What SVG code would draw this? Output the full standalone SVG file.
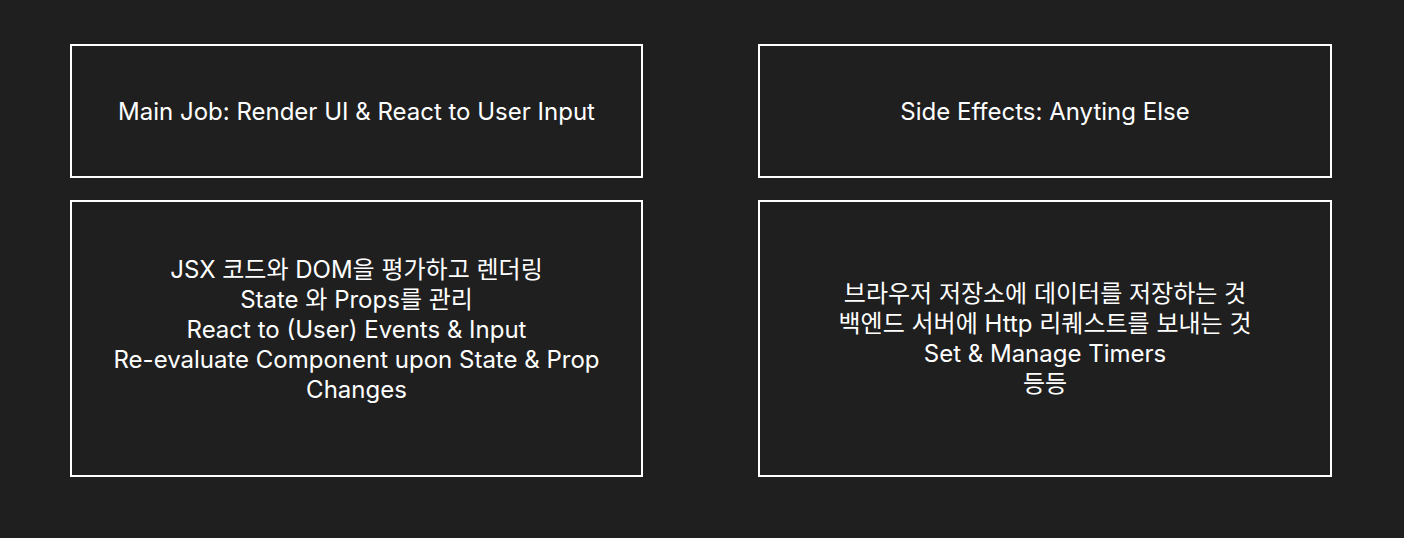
<svg xmlns="http://www.w3.org/2000/svg" width="1404" height="538" viewBox="0 0 1404 538">
<style>
.box{fill:none;stroke:#ffffff;stroke-width:2}
.t{fill:#ffffff;font-family:Inter,"Noto Sans CJK KR",sans-serif;font-size:24px;font-weight:400;text-anchor:middle;dominant-baseline:central}
</style>
<rect width="1404" height="538" fill="#1f1f1f"/>
<g id="main-job">
<rect class="box" x="71" y="45" width="571" height="132"/>
<text class="t" x="356.5" y="111">Main Job: Render UI &amp; React to User Input</text>
</g>
<g id="side-effects">
<rect class="box" x="759" y="45" width="572" height="132"/>
<text class="t" x="1045" y="111">Side Effects: Anyting Else</text>
</g>
<g id="main-job-details">
<rect class="box" x="71" y="201" width="571" height="275"/>
<text class="t" x="356.5" y="269">JSX 코드와 DOM을 평가하고 렌더링</text>
<text class="t" x="356.5" y="299">State 와 Props를 관리</text>
<text class="t" x="356.5" y="329">React to (User) Events &amp; Input</text>
<text class="t" x="356.5" y="359">Re-evaluate Component upon State &amp; Prop</text>
<text class="t" x="356.5" y="389">Changes</text>
</g>
<g id="side-effects-details">
<rect class="box" x="759" y="201" width="572" height="275"/>
<text class="t" x="1045" y="293">브라우저 저장소에 데이터를 저장하는 것</text>
<text class="t" x="1045" y="323">백엔드 서버에 Http 리퀘스트를 보내는 것</text>
<text class="t" x="1045" y="353">Set &amp; Manage Timers</text>
<text class="t" x="1045" y="383">등등</text>
</g>
<g id="connectors"></g>
</svg>
